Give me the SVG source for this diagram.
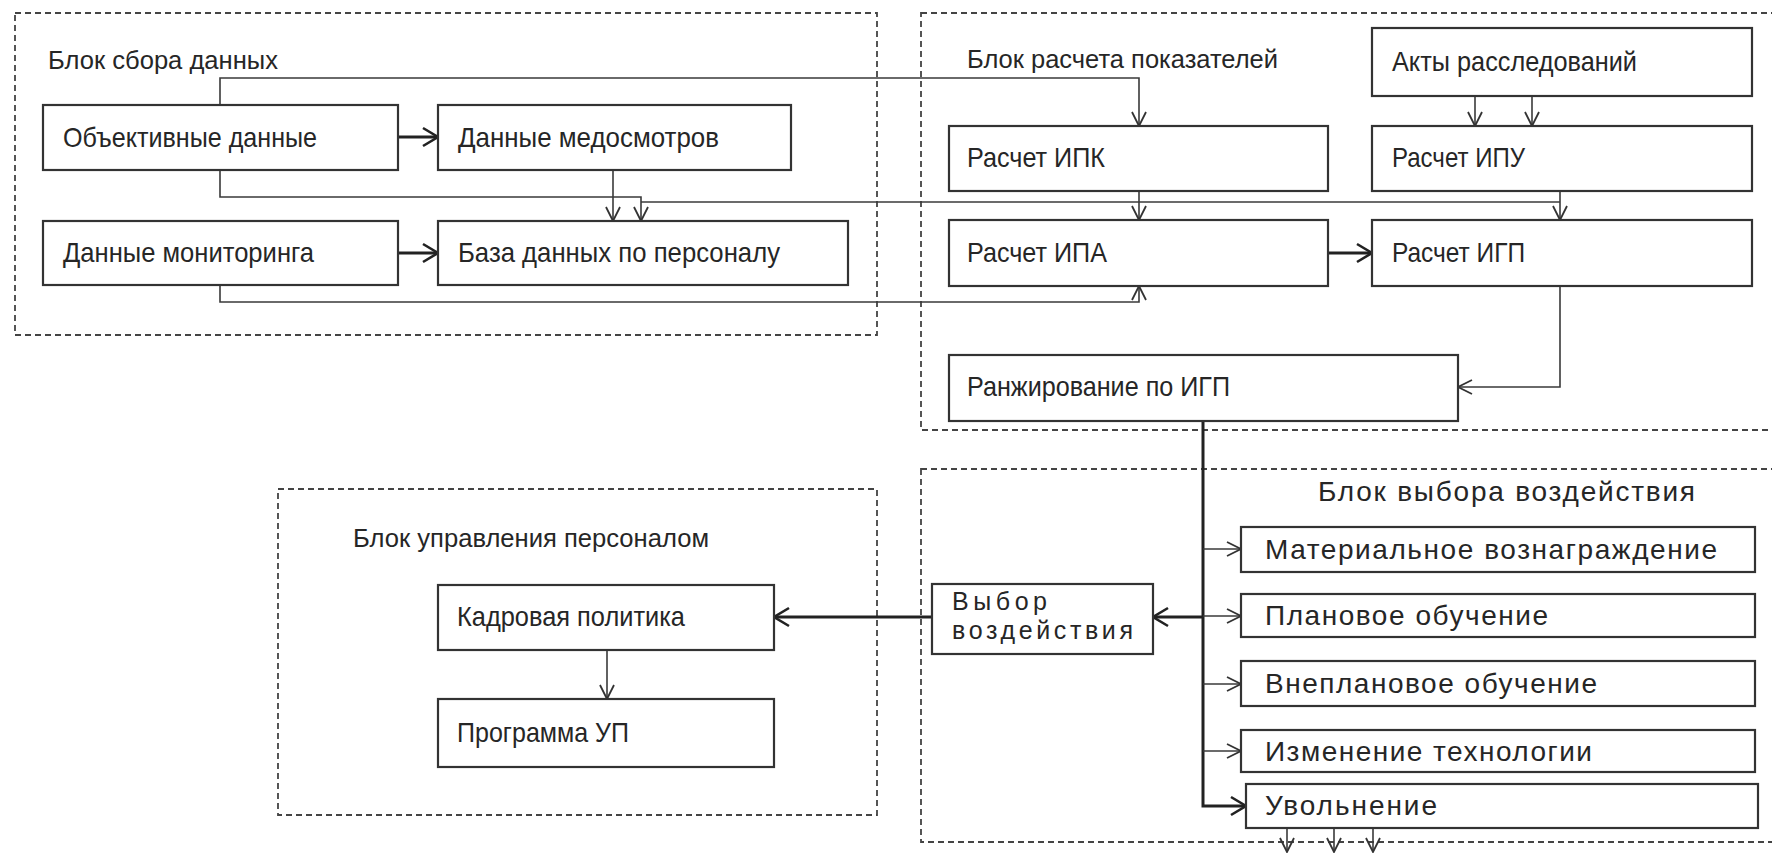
<svg xmlns="http://www.w3.org/2000/svg" width="1772" height="853" viewBox="0 0 1772 853">
<style>
  .frame{fill:none;stroke:#444;stroke-width:1.8;stroke-dasharray:6 4}
  .box{fill:#fff;stroke:#333;stroke-width:2.2}
  .t{font-family:"Liberation Sans Narrow","Liberation Sans",Arial,sans-serif;font-size:28px;fill:#262626}
  .lbl{font-family:"Liberation Sans Narrow","Liberation Sans",Arial,sans-serif;font-size:25px;fill:#262626}
  .w{font-family:"Liberation Sans",Arial,sans-serif;font-size:28px;fill:#262626}
  .w2{font-family:"Liberation Sans",Arial,sans-serif;font-size:25px;fill:#262626}
  .c{fill:none;stroke:#3a3a3a;stroke-width:1.6}
  .ck{fill:none;stroke:#222;stroke-width:3}
</style>
<defs>
  <marker id="a" markerUnits="userSpaceOnUse" markerWidth="20" markerHeight="20" refX="16" refY="9" orient="auto">
    <path d="M2,2 L16,9 L2,16" fill="none" stroke="#333" stroke-width="1.8"/>
  </marker>
  <marker id="ak" markerUnits="userSpaceOnUse" markerWidth="22" markerHeight="24" refX="17" refY="11" orient="auto">
    <path d="M2,2 L17,11 L2,20" fill="none" stroke="#222" stroke-width="2.6"/>
  </marker>
</defs>
<rect width="1772" height="853" fill="#fff"/>

<g id="frames">
  <rect class="frame" x="15" y="13" width="862" height="322"/>
  <rect class="frame" x="921" y="13" width="860" height="417"/>
  <rect class="frame" x="278" y="489" width="599" height="326"/>
  <rect class="frame" x="921" y="469" width="860" height="373"/>
  <text class="lbl" x="48" y="69" textLength="230" lengthAdjust="spacingAndGlyphs">Блок сбора данных</text>
  <text class="lbl" x="967" y="68" textLength="311" lengthAdjust="spacingAndGlyphs">Блок расчета показателей</text>
  <text class="lbl" x="353" y="547" textLength="356" lengthAdjust="spacingAndGlyphs">Блок управления персоналом</text>
  <text class="w" x="1318" y="501" textLength="377" lengthAdjust="spacing">Блок выбора воздействия</text>
</g>

<g id="connectors">
  <path class="c" d="M220,105 V78 H1139 V126" marker-end="url(#a)"/>
  <path class="ck" d="M398,137 H438" marker-end="url(#ak)"/>
  <path class="c" d="M613,170 V221" marker-end="url(#a)"/>
  <path class="c" d="M220,170 V197 H641 V221" marker-end="url(#a)"/>
  <path class="c" d="M641,202 H1560"/>
  <path class="c" d="M1139,191 V220" marker-end="url(#a)"/>
  <path class="c" d="M1560,191 V220" marker-end="url(#a)"/>
  <path class="ck" d="M398,253 H438" marker-end="url(#ak)"/>
  <path class="c" d="M220,285 V302 H1139 V286" marker-end="url(#a)"/>
  <path class="c" d="M1475,96 V126" marker-end="url(#a)"/>
  <path class="c" d="M1532,96 V126" marker-end="url(#a)"/>
  <path class="ck" d="M1328,253 H1372" marker-end="url(#ak)"/>
  <path class="c" d="M1560,286 V387 H1458" marker-end="url(#a)"/>
  <path class="ck" d="M1203,421 V806 H1246" marker-end="url(#ak)"/>
  <path class="c" d="M1203,549 H1241" marker-end="url(#a)"/>
  <path class="c" d="M1203,616 H1241" marker-end="url(#a)"/>
  <path class="c" d="M1203,684 H1241" marker-end="url(#a)"/>
  <path class="c" d="M1203,751 H1241" marker-end="url(#a)"/>
  <path class="ck" d="M1203,617 H1153" marker-end="url(#ak)"/>
  <path class="ck" d="M932,617 H774" marker-end="url(#ak)"/>
  <path class="c" d="M607,650 V699" marker-end="url(#a)"/>
  <path class="c" d="M1287,828 V852" marker-end="url(#a)"/>
  <path class="c" d="M1334,828 V852" marker-end="url(#a)"/>
  <path class="c" d="M1373,828 V852" marker-end="url(#a)"/>
</g>

<g id="n-objective"><rect class="box" x="43" y="105" width="355" height="65"/><text class="t" x="63" y="147" textLength="254" lengthAdjust="spacingAndGlyphs">Объективные данные</text></g>
<g id="n-medosmotr"><rect class="box" x="438" y="105" width="353" height="65"/><text class="t" x="458" y="147" textLength="261" lengthAdjust="spacingAndGlyphs">Данные медосмотров</text></g>
<g id="n-monitoring"><rect class="box" x="43" y="221" width="355" height="64"/><text class="t" x="63" y="262" textLength="251" lengthAdjust="spacingAndGlyphs">Данные мониторинга</text></g>
<g id="n-database"><rect class="box" x="438" y="221" width="410" height="64"/><text class="t" x="458" y="262" textLength="322" lengthAdjust="spacingAndGlyphs">База данных по персоналу</text></g>

<g id="n-akty"><rect class="box" x="1372" y="28" width="380" height="68"/><text class="t" x="1392" y="71" textLength="245" lengthAdjust="spacingAndGlyphs">Акты расследований</text></g>
<g id="n-ipk"><rect class="box" x="949" y="126" width="379" height="65"/><text class="t" x="967" y="167" textLength="138" lengthAdjust="spacingAndGlyphs">Расчет ИПК</text></g>
<g id="n-ipu"><rect class="box" x="1372" y="126" width="380" height="65"/><text class="t" x="1392" y="167" textLength="133" lengthAdjust="spacingAndGlyphs">Расчет ИПУ</text></g>
<g id="n-ipa"><rect class="box" x="949" y="220" width="379" height="66"/><text class="t" x="967" y="262" textLength="140" lengthAdjust="spacingAndGlyphs">Расчет ИПА</text></g>
<g id="n-igp"><rect class="box" x="1372" y="220" width="380" height="66"/><text class="t" x="1392" y="262" textLength="133" lengthAdjust="spacingAndGlyphs">Расчет ИГП</text></g>
<g id="n-rank"><rect class="box" x="949" y="355" width="509" height="66"/><text class="t" x="967" y="396" textLength="263" lengthAdjust="spacingAndGlyphs">Ранжирование по ИГП</text></g>

<g id="n-kadr"><rect class="box" x="438" y="585" width="336" height="65"/><text class="t" x="457" y="626" textLength="228" lengthAdjust="spacingAndGlyphs">Кадровая политика</text></g>
<g id="n-program"><rect class="box" x="438" y="699" width="336" height="68"/><text class="t" x="457" y="742" textLength="172" lengthAdjust="spacingAndGlyphs">Программа УП</text></g>

<g id="n-vybor"><rect class="box" x="932" y="584" width="221" height="70"/><text class="w2" x="952" y="610" textLength="95" lengthAdjust="spacing">Выбор</text><text class="w2" x="952" y="639" textLength="181" lengthAdjust="spacing">воздействия</text></g>

<g id="n-material"><rect class="box" x="1241" y="527" width="514" height="45"/><text class="w" x="1265" y="559" textLength="452" lengthAdjust="spacing">Материальное вознаграждение</text></g>
<g id="n-plan"><rect class="box" x="1241" y="594" width="514" height="43"/><text class="w" x="1265" y="625" textLength="283" lengthAdjust="spacing">Плановое обучение</text></g>
<g id="n-vneplan"><rect class="box" x="1241" y="661" width="514" height="45"/><text class="w" x="1265" y="693" textLength="332" lengthAdjust="spacing">Внеплановое обучение</text></g>
<g id="n-tech"><rect class="box" x="1241" y="730" width="514" height="42"/><text class="w" x="1265" y="761" textLength="327" lengthAdjust="spacing">Изменение технологии</text></g>
<g id="n-uvol"><rect class="box" x="1246" y="784" width="512" height="44"/><text class="w" x="1265" y="815" textLength="172" lengthAdjust="spacing">Увольнение</text></g>
</svg>
